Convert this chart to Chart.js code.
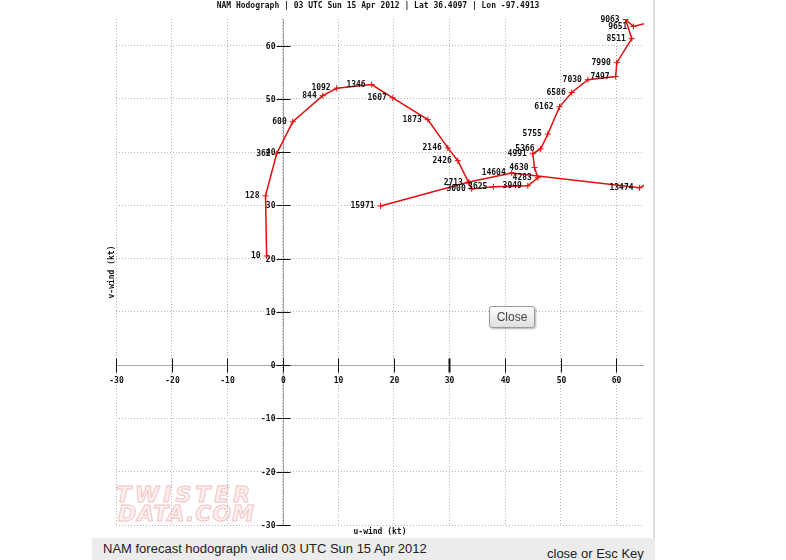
<!DOCTYPE html>
<html lang="en">
<head>
  <meta charset="UTF-8" />
  <title>NAM Hodograph</title>
  <style>
    body {
      margin: 0;
      width: 786px;
      height: 560px;
      overflow: hidden;
      position: relative;
      background: #fff;
      font-family: 'Liberation Sans', Arial, sans-serif;
    }

    .title {
      position: absolute;
      top: 1px;
      left: 0;
      width: 756px;
      text-align: center;
      font: bold 8px 'DejaVu Sans Mono', monospace;
      color: #111;
    }

    .edge {
      position: absolute;
      left: 653px;
      top: 0;
      width: 2px;
      height: 538px;
      background: #dcdcdc;
    }

    .watermark {
      position: absolute;
      left: 116px;
      top: 485px;
      font: italic bold 22px 'DejaVu Sans', sans-serif;
      line-height: 19px;
      color: #fdf1f1;
      -webkit-text-stroke: 1px #f3c4c4;
    }
    .watermark .l1 { letter-spacing: 4px; }
    .watermark .l2 { letter-spacing: 1px; margin-left: 2px; }

    .caption {
      position: absolute;
      left: 92px;
      top: 538px;
      width: 563px;
      height: 22px;
      background: #ececec;
    }

    .caption .left {
      position: absolute;
      left: 11px;
      top: 3px;
      font-size: 13px;
      color: #222;
    }

    .caption .right {
      position: absolute;
      left: 455px;
      top: 8px;
      font-size: 13px;
      color: #222;
    }

    .close-btn {
      position: absolute;
      left: 489px;
      top: 306px;
      width: 44px;
      height: 20px;
      border: 1px solid #9a9a9a;
      border-radius: 3px;
      background: linear-gradient(#fdfdfd, #e0e0e0);
      box-shadow: 1px 1px 2px rgba(0,0,0,0.3);
      font-size: 12px;
      line-height: 20px;
      text-align: center;
      color: #444;
    }

    #hodo {
      position: absolute;
      left: 0;
      top: 0;
    }
  </style>
</head>
<body>
  <div class="watermark"><div class="l1">TWISTER</div><div class="l2">DATA.COM</div></div>
  <canvas id="hodo" width="786" height="560"></canvas>
  <div class="title">NAM Hodograph | 03 UTC Sun 15 Apr 2012 | Lat 36.4097 | Lon -97.4913</div>
  <div class="edge"></div>
  <div class="close-btn">Close</div>
  <div class="caption">
    <span class="left">NAM forecast hodograph valid 03 UTC Sun 15 Apr 2012</span>
    <span class="right">close or Esc Key</span>
  </div>

  <script src="https://cdn.jsdelivr.net/npm/chart.js"></script>
  <script>
    // heights (m) of each hodograph point, with u / v wind components (kt)
    const heights = ['10', '128', '362', '600', '844', '1092', '1346', '1607', '1873', '2146',
      '2426', '2713', '3000', '3625', '3949', '4283', '4630', '4991', '5366', '5755',
      '6162', '6586', '7030', '7497', '7990', '8511', '9063', '9651', '', '',
      '13474', '14604', '', '15971'];
    const uWind = [-2.9, -3.1, -1.1, 1.8, 7.2, 9.7, 16.0, 19.8, 26.1, 29.7,
      31.5, 33.5, 34.0, 37.9, 44.1, 45.9, 45.3, 45.0, 46.4, 47.7,
      49.8, 52.0, 54.9, 59.9, 60.1, 62.8, 61.7, 63.1, 72, 76,
      64.2, 41.2, 33.5, 17.6];
    const vWind = [20.5, 31.8, 39.7, 45.7, 50.6, 52.0, 52.7, 50.2, 46.1, 40.8,
      38.4, 34.2, 33.1, 33.5, 33.7, 35.2, 37.1, 39.7, 40.6, 43.4,
      48.5, 51.2, 53.6, 54.2, 56.8, 61.3, 64.9, 63.6, 66, 40,
      33.3, 36.1, 34.4, 29.9];

    const uTicks = [-30, -20, -10, 0, 10, 20, 30, 40, 50, 60];
    const vTicks = [60, 50, 40, 30, 20, 10, 0, -10, -20, -30];

    const smallFont = "bold 8px 'DejaVu Sans Mono', monospace";

    // axes through the origin, tick marks, labels and height annotations
    const hodoAxes = {
      id: 'hodoAxes',
      beforeDatasetsDraw(chart) {
        const { ctx, chartArea: a, scales: { x, y } } = chart;
        const x0 = Math.round(x.getPixelForValue(0)) + 0.5;
        const y0 = Math.round(y.getPixelForValue(0)) + 0.5;
        ctx.save();
        ctx.strokeStyle = '#a6a6a6';
        ctx.lineWidth = 1;
        ctx.beginPath();
        ctx.moveTo(a.left, y0); ctx.lineTo(a.right, y0);
        ctx.moveTo(x0, a.top); ctx.lineTo(x0, a.bottom);
        ctx.stroke();

        ctx.strokeStyle = '#111';
        ctx.fillStyle = '#111';
        ctx.font = smallFont;
        uTicks.forEach(v => {
          const px = Math.round(x.getPixelForValue(v)) + 0.5;
          ctx.lineWidth = v === 30 ? 2 : 1;
          ctx.beginPath();
          ctx.moveTo(px, y0 - 7); ctx.lineTo(px, y0 + 7);
          ctx.stroke();
          ctx.textAlign = 'center';
          ctx.textBaseline = 'middle';
          ctx.fillText(String(v), px, y0 + 15);
        });
        ctx.lineWidth = 1;
        vTicks.forEach(v => {
          const py = Math.round(y.getPixelForValue(v)) + 0.5;
          ctx.beginPath();
          ctx.moveTo(x0 - 7, py); ctx.lineTo(x0 + 7, py);
          ctx.stroke();
          ctx.textAlign = 'right';
          ctx.textBaseline = 'middle';
          ctx.fillText(String(v), x0 - 8, py);
        });

        // axis titles
        ctx.textAlign = 'center';
        ctx.fillText('u-wind (kt)', 380, a.bottom + 7);
        ctx.translate(a.left - 4, 272);
        ctx.rotate(-Math.PI / 2);
        ctx.fillText('v-wind (kt)', 0, 0);
        ctx.restore();
      },
      afterDatasetsDraw(chart) {
        const { ctx, chartArea: a } = chart;
        const meta = chart.getDatasetMeta(0);
        ctx.save();
        ctx.font = smallFont;
        ctx.fillStyle = '#111';
        ctx.textAlign = 'right';
        ctx.textBaseline = 'middle';
        meta.data.forEach((pt, i) => {
          if (!heights[i] || pt.x > a.right + 2) return;
          ctx.fillText(heights[i], pt.x - 6, pt.y);
        });
        ctx.restore();
      }
    };

    new Chart(document.getElementById('hodo'), {
      type: 'scatter',
      data: {
        datasets: [{
          data: uWind.map((u, i) => ({ x: u, y: vWind[i] })),
          showLine: true,
          borderColor: '#e60d0d',
          borderWidth: 1.5,
          pointStyle: 'cross',
          pointRadius: 3,
          pointBorderWidth: 1,
          pointBorderColor: '#e60d0d',
          tension: 0
        }]
      },
      options: {
        responsive: false,
        animation: false,
        layout: { padding: { left: 116, right: 142, top: 19, bottom: 35 } },
        plugins: { legend: { display: false }, tooltip: { enabled: false } },
        scales: {
          x: {
            type: 'linear',
            min: -30,
            max: 65,
            afterBuildTicks: s => { s.ticks = uTicks.map(v => ({ value: v })); },
            ticks: { display: false },
            grid: { color: '#b4b4b4', drawTicks: false },
            border: { display: false, dash: [1, 2] }
          },
          y: {
            type: 'linear',
            min: -30,
            max: 65,
            afterBuildTicks: s => { s.ticks = vTicks.map(v => ({ value: v })); },
            ticks: { display: false },
            grid: { color: '#b4b4b4', drawTicks: false },
            border: { display: false, dash: [1, 2] }
          }
        }
      },
      plugins: [hodoAxes]
    });
  </script>
</body>
</html>
